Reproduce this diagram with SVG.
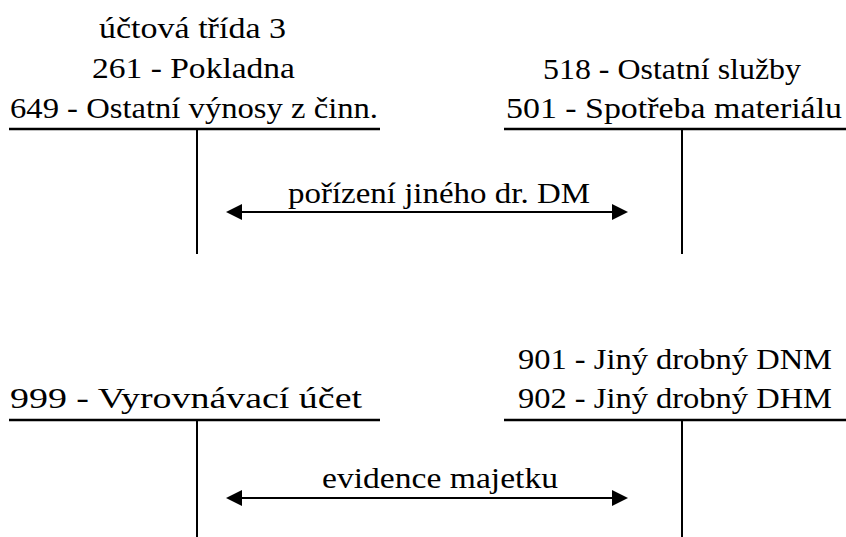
<svg xmlns="http://www.w3.org/2000/svg" width="846" height="537" viewBox="0 0 846 537">
  <style>
    .t { font-family: "Liberation Serif", "DejaVu Serif", serif; font-size: 29px; fill: #000; }
    .rule { stroke: #000; stroke-width: 2.5; fill: none; }
    .leg { stroke: #000; stroke-width: 2; fill: none; }
    .flow { stroke: #000; stroke-width: 2; fill: none; marker-start: url(#head); marker-end: url(#head); }
  </style>
  <defs>
    <marker id="head" viewBox="0 0 16 16" refX="2" refY="8" markerWidth="16" markerHeight="16" markerUnits="userSpaceOnUse" orient="auto-start-reverse">
      <path d="M0,0 L16,8 L0,16 Z" fill="#000"/>
    </marker>
  </defs>

  <rect width="846" height="537" fill="#fff"/>

  <!-- T-account: class 3 / 261 / 649 -->
  <g id="acc-261-649">
    <text class="t" x="99" y="38" textLength="187" lengthAdjust="spacingAndGlyphs">účtová třída 3</text>
    <text class="t" x="92" y="78" textLength="203" lengthAdjust="spacingAndGlyphs">261 - Pokladna</text>
    <text class="t" x="10" y="118" textLength="368" lengthAdjust="spacingAndGlyphs">649 - Ostatní výnosy z činn.</text>
    <line class="rule" x1="9" y1="129" x2="380" y2="129"/>
    <line class="leg" x1="197" y1="129" x2="197" y2="254"/>
  </g>

  <!-- T-account: 518 / 501 -->
  <g id="acc-518-501">
    <text class="t" x="543" y="79" textLength="258" lengthAdjust="spacingAndGlyphs">518 - Ostatní služby</text>
    <text class="t" x="506" y="118" textLength="336" lengthAdjust="spacingAndGlyphs">501 - Spotřeba materiálu</text>
    <line class="rule" x1="504" y1="129" x2="846" y2="129"/>
    <line class="leg" x1="682" y1="129" x2="682" y2="254"/>
  </g>

  <!-- T-account: 999 -->
  <g id="acc-999">
    <text class="t" x="10" y="408" textLength="352" lengthAdjust="spacingAndGlyphs">999 - Vyrovnávací účet</text>
    <line class="rule" x1="9" y1="420" x2="380" y2="420"/>
    <line class="leg" x1="197" y1="420" x2="197" y2="537"/>
  </g>

  <!-- T-account: 901 / 902 -->
  <g id="acc-901-902">
    <text class="t" x="518" y="369" textLength="314" lengthAdjust="spacingAndGlyphs">901 - Jiný drobný DNM</text>
    <text class="t" x="518" y="408" textLength="314" lengthAdjust="spacingAndGlyphs">902 - Jiný drobný DHM</text>
    <line class="rule" x1="504" y1="420" x2="846" y2="420"/>
    <line class="leg" x1="682" y1="420" x2="682" y2="537"/>
  </g>

  <!-- Connectors -->
  <g id="connectors">
    <line class="flow" x1="240" y1="212" x2="614" y2="212"/>
    <text class="t" x="288" y="203" textLength="302" lengthAdjust="spacingAndGlyphs">pořízení jiného dr. DM</text>
    <line class="flow" x1="240" y1="498" x2="614" y2="498"/>
    <text class="t" x="322" y="488" textLength="236" lengthAdjust="spacingAndGlyphs">evidence majetku</text>
  </g>
</svg>
